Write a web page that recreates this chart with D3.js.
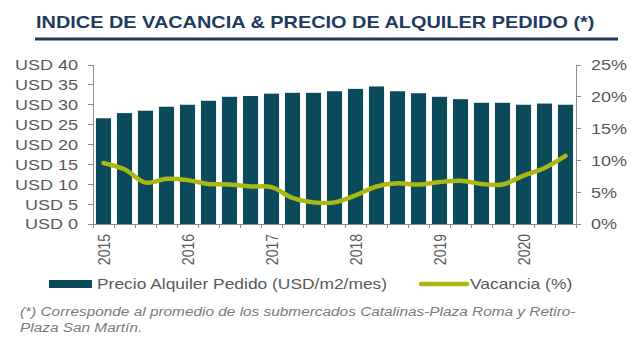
<!DOCTYPE html>
<meta charset="utf-8">
<title>Indice de vacancia y precio de alquiler</title>
<body>
<script src="https://cdn.jsdelivr.net/npm/d3@7"></script>
<style>
html, body {
    margin: 0;
    background: #fff;
}
text {
    font-family: "Liberation Sans", Arial, sans-serif;
}
</style>
<script>
// quarterly series, 1T15 .. 3T20
var quarters = ["1T15", "2T15", "3T15", "4T15",
                "1T16", "2T16", "3T16", "4T16",
                "1T17", "2T17", "3T17", "4T17",
                "1T18", "2T18", "3T18", "4T18",
                "1T19", "2T19", "3T19", "4T19",
                "1T20", "2T20", "3T20"];

var precio = [26.6, 27.9, 28.5, 29.5,
              30.0, 31.0, 32.0, 32.2,
              32.8, 33.0, 33.0, 33.4,
              34.0, 34.6, 33.4, 32.9,
              32.0, 31.4, 30.5, 30.5,
              30.0, 30.3, 30.0];

// percent
var vacancia = [9.6, 8.6, 6.5, 7.1,
                6.9, 6.3, 6.2, 5.9,
                5.8, 4.1, 3.4, 3.4,
                4.5, 5.9, 6.4, 6.2,
                6.6, 6.8, 6.3, 6.2,
                7.6, 8.8, 10.7];

var years = ["2015", "2016", "2017", "2018", "2019", "2020"];
var usdTicks = [0, 5, 10, 15, 20, 25, 30, 35, 40];
var pctTicks = [0, 5, 10, 15, 20, 25];

var width = 640,
    height = 338;

var navy = "#1f3a5f",
    teal = "#0b4a5a",
    olive = "#abb814",
    grey = "#595959",
    axisGrey = "#8c8c8c";

// the whole layout is a bit wide, text gets stretched sideways
var squash = 1.2;
function stretch(sel, k) {
    sel.each(function() {
        var len = this.getComputedTextLength();
        d3.select(this)
            .attr("textLength", len * (k || squash))
            .attr("lengthAdjust", "spacingAndGlyphs");
    });
}

var svg = d3.select("body").append("svg")
    .attr("width", width)
    .attr("height", height);

// title + rule
svg.append("text")
    .attr("x", 36)
    .attr("y", 28)
    .attr("fill", navy)
    .style("font-size", "17px")
    .style("font-weight", "bold")
    .text("INDICE DE VACANCIA & PRECIO DE ALQUILER PEDIDO (*)")
    .call(stretch, 1.17);

svg.append("rect")
    .attr("x", 35)
    .attr("y", 37.5)
    .attr("width", 583)
    .attr("height", 3)
    .attr("fill", navy);

var plotL = 93, plotR = 576, plotT = 65, plotB = 224;

var x = d3.scaleBand()
    .domain(quarters)
    .range([plotL, plotR])
    .paddingInner(0.28)
    .paddingOuter(0.14);

var y = d3.scaleLinear().domain([0, 40]).range([plotB, plotT]);
var y2 = d3.scaleLinear().domain([0, 25]).range([plotB, plotT]);

var data = quarters.map(function(q, i) {
    return { q: q, precio: precio[i], vac: vacancia[i] };
});

// bars
svg.append("g").selectAll("rect")
    .data(data)
    .enter().append("rect")
    .attr("x", function(d) { return x(d.q); })
    .attr("y", function(d) { return y(d.precio); })
    .attr("width", x.bandwidth())
    .attr("height", function(d) { return plotB - y(d.precio); })
    .attr("fill", teal);

// axes
var ax = svg.append("g")
    .attr("stroke", axisGrey)
    .attr("stroke-width", 1)
    .attr("shape-rendering", "crispEdges");

ax.append("line").attr("x1", plotL).attr("x2", plotL).attr("y1", plotT).attr("y2", plotB);
ax.append("line").attr("x1", plotR).attr("x2", plotR).attr("y1", plotT).attr("y2", plotB);
ax.append("line").attr("x1", plotL).attr("x2", plotR).attr("y1", plotB).attr("y2", plotB);

ax.selectAll(".tl")
    .data(usdTicks)
    .enter().append("line")
    .attr("x1", plotL - 5).attr("x2", plotL)
    .attr("y1", function(d) { return y(d); })
    .attr("y2", function(d) { return y(d); });

ax.selectAll(".tr")
    .data(pctTicks)
    .enter().append("line")
    .attr("x1", plotR).attr("x2", plotR + 5)
    .attr("y1", function(d) { return y2(d); })
    .attr("y2", function(d) { return y2(d); });

// category ticks sit on the band edges
ax.selectAll(".tb")
    .data(d3.range(quarters.length + 1))
    .enter().append("line")
    .attr("x1", function(i) { return plotL + i * x.step(); })
    .attr("x2", function(i) { return plotL + i * x.step(); })
    .attr("y1", plotB)
    .attr("y2", plotB + 4);

svg.append("g").selectAll("text")
    .data(usdTicks)
    .enter().append("text")
    .attr("x", 78)
    .attr("y", function(d) { return y(d); })
    .attr("dy", "0.36em")
    .attr("text-anchor", "end")
    .attr("fill", grey)
    .style("font-size", "15px")
    .text(function(d) { return "USD " + d; })
    .call(stretch);

svg.append("g").selectAll("text")
    .data(pctTicks)
    .enter().append("text")
    .attr("x", 591)
    .attr("y", function(d) { return y2(d); })
    .attr("dy", "0.36em")
    .attr("fill", grey)
    .style("font-size", "15px")
    .text(function(d) { return d + "%"; })
    .call(stretch);

// year labels under the first quarter of each year
svg.append("g").selectAll("text")
    .data(years)
    .enter().append("text")
    .attr("transform", function(d, i) {
        var cx = x(quarters[i * 4]) + x.bandwidth() / 2;
        return "translate(" + cx + "," + (plotB + 10) + ")scale(" + squash + ",1)rotate(-90)";
    })
    .attr("dy", "0.36em")
    .attr("text-anchor", "end")
    .attr("fill", grey)
    .style("font-size", "14px")
    .text(function(d) { return d; });

// vacancy line
var line = d3.line()
    .x(function(d) { return x(d.q) + x.bandwidth() / 2; })
    .y(function(d) { return y2(d.vac); })
    .curve(d3.curveCatmullRom);

svg.append("path")
    .datum(data)
    .attr("fill", "none")
    .attr("stroke", olive)
    .attr("stroke-width", 4.5)
    .attr("stroke-linecap", "round")
    .attr("stroke-linejoin", "round")
    .attr("d", line);

// legend
var legend = svg.append("g");

legend.append("rect")
    .attr("x", 49)
    .attr("y", 280)
    .attr("width", 43)
    .attr("height", 8)
    .attr("fill", teal);

legend.append("text")
    .attr("x", 97)
    .attr("y", 288.5)
    .attr("fill", grey)
    .style("font-size", "14.5px")
    .text("Precio Alquiler Pedido (USD/m2/mes)")
    .call(stretch);

legend.append("line")
    .attr("x1", 421)
    .attr("x2", 467)
    .attr("y1", 284)
    .attr("y2", 284)
    .attr("stroke", olive)
    .attr("stroke-width", 4.5)
    .attr("stroke-linecap", "round");

legend.append("text")
    .attr("x", 470)
    .attr("y", 288.5)
    .attr("fill", grey)
    .style("font-size", "14.5px")
    .text("Vacancia (%)")
    .call(stretch);

// footnote
var note = svg.append("g")
    .attr("fill", "#7a7a7a")
    .style("font-size", "12.5px")
    .style("font-style", "italic");

note.append("text")
    .attr("x", 20)
    .attr("y", 316)
    .text("(*) Corresponde al promedio de los submercados Catalinas-Plaza Roma y Retiro-")
    .call(stretch, 1.23);

note.append("text")
    .attr("x", 20)
    .attr("y", 332)
    .text("Plaza San Martín.")
    .call(stretch, 1.23);
</script>
